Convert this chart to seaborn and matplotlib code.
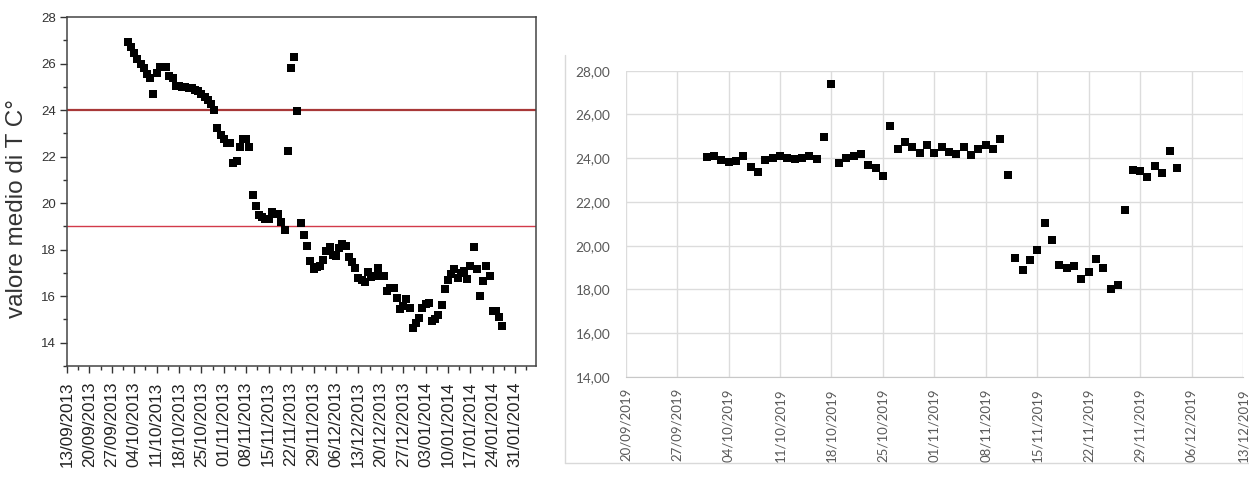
import numpy as np
import pandas as pd
import matplotlib
matplotlib.use("Agg")
import matplotlib.pyplot as plt
import seaborn as sns
from matplotlib.lines import Line2D

# ---------------- data ----------------
left_start = "2013-10-02"
left_values = [
    26.94, 26.73, 26.47, 26.18, 25.97, 25.80, 25.55, 25.37, 24.70, 25.58,
    25.87, 25.87, 25.87, 25.47, 25.37, 25.04, 25.02, 25.00, 24.98, 24.96,
    24.93, 24.88, 24.80, 24.70, 24.58, 24.45, 24.28, 24.00, 23.22, 22.94,
    22.75, 22.58, 22.60, 21.74, 21.83, 22.43, 22.75, 22.75, 22.43, 20.35,
    19.86, 19.50, 19.40, 19.32, 19.32, 19.60, 19.55, 19.55, 19.17, 18.86,
    22.26, 25.82, 26.30, 23.94, 19.14, 18.64, 18.17, 17.50, 17.17, 17.26,
    17.28, 17.57, 17.93, 18.12, 17.79, 17.71, 18.07, 18.26, 18.14, 17.69,
    17.46, 17.21, 16.79, 16.71, 16.61, 17.03, 16.83, 16.86, 17.21, 16.86,
    16.86, 16.21, 16.36, 16.36, 15.93, 15.43, 15.57, 15.88, 15.50, 14.64,
    14.85, 15.07, 15.50, 15.68, 15.71, 14.92, 15.00, 15.21, 15.64, 16.31,
    16.71, 16.97, 17.17, 16.79, 17.00, 17.07, 16.74, 17.31, 18.12, 17.17,
    16.00, 16.67, 17.31, 16.86, 15.38, 15.38, 15.11, 14.71,
]
left_thresholds = [24, 19]
left_tick_start, left_tick_end = "2013-09-13", "2014-01-31"
left_ylabel = "valore medio di T C°"

right_start = "2019-10-01"
right_values = [
    24.06, 24.12, 23.94, 23.83, 23.88, 24.09, 23.60, 23.37, 23.94, 24.03,
    24.09, 24.03, 23.96, 24.01, 24.09, 23.97, 24.95, 27.39, 23.79, 23.99,
    24.09, 24.21, 23.68, 23.57, 23.19, 25.47, 24.44, 24.75, 24.49, 24.26,
    24.60, 24.24, 24.49, 24.29, 24.18, 24.52, 24.14, 24.40, 24.60, 24.43,
    24.89, 23.22, 19.43, 18.87, 19.36, 19.82, 21.04, 20.24, 19.13, 18.98,
    19.07, 18.49, 18.82, 19.40, 18.98, 18.03, 18.21, 21.65, 23.45, 23.42,
    23.14, 23.63, 23.33, 24.32, 23.56,
]
right_tick_start, right_tick_end = "2019-09-20", "2019-12-13"
right_yticks = [14, 16, 18, 20, 22, 24, 26, 28]

# ---------------- frames ----------------
left_df = pd.DataFrame({
    "data": pd.date_range(left_start, periods=len(left_values), freq="D"),
    "T": left_values,
})
right_df = pd.DataFrame({
    "data": pd.date_range(right_start, periods=len(right_values), freq="D"),
    "T": right_values,
})
left_ticks = pd.date_range(left_tick_start, left_tick_end, freq="7D")
right_ticks = pd.date_range(right_tick_start, right_tick_end, freq="7D")

sns.set_style("white")
plt.rcParams["font.family"] = ["Liberation Sans", "DejaVu Sans"]

W, H = 1249, 488
fig = plt.figure(figsize=(W / 100, H / 100), dpi=100)

# ---------------- left panel ----------------
ax1 = fig.add_axes([67 / W, 1 - 366 / H, (536 - 67) / W, (366 - 17) / H])
sns.scatterplot(data=left_df, x="data", y="T", marker="s", s=38, color="black",
                linewidth=0, ax=ax1, legend=False, zorder=3)
for t, c, lw in zip(left_thresholds, ["#a83838", "#d23a4a"], [1.6, 1.0]):
    ax1.axhline(t, color=c, lw=lw, zorder=2)
ax1.set_ylim(13, 28)
ax1.set_xlim(left_ticks[0], left_ticks[0] + pd.Timedelta(days=146.5))
ax1.set_yticks(np.arange(14, 29, 2))
ax1.set_yticks(np.arange(13, 28, 2), minor=True)
ax1.set_xticks(left_ticks)
minor = [t + pd.Timedelta(days=3.5) for t in left_ticks]
ax1.set_xticks(minor, minor=True)
ax1.set_xticklabels([d.strftime("%d/%m/%Y") for d in left_ticks], rotation=90,
                    fontsize=12.3, color="#222222")
ax1.set_yticklabels([str(v) for v in range(14, 29, 2)], fontsize=9.5, color="#333333")
ax1.tick_params(axis="both", which="major", direction="out", length=5, width=1,
                color="#333333", bottom=True, left=True)
ax1.tick_params(axis="both", which="minor", direction="out", length=3, width=1,
                color="#333333", bottom=True, left=True)
ax1.tick_params(axis="x", which="major", pad=6)
ax1.tick_params(axis="y", which="major", pad=3)
for sp in ax1.spines.values():
    sp.set_color("#444444")
    sp.set_linewidth(1.1)
ax1.set_xlabel("")
ax1.set_ylabel(left_ylabel, fontsize=17.5, color="#333333")
ax1.yaxis.set_label_coords(-0.083, 0.45)

# ---------------- right panel ----------------
ax2 = fig.add_axes([625.7 / W, 1 - 377 / H, (1243 - 625.7) / W, (377 - 70.7) / H])
sns.scatterplot(data=right_df, x="data", y="T", marker="s", s=30, color="black",
                linewidth=0, ax=ax2, legend=False, zorder=3)
ax2.set_ylim(14, 28)
ax2.set_xlim(right_ticks[0], right_ticks[-1])
ax2.set_yticks(right_yticks)
ax2.set_yticklabels([f"{v:.2f}".replace(".", ",") for v in right_yticks],
                    fontsize=9.8, color="#595959", family=["Lato", "DejaVu Sans"])
ax2.set_xticks(right_ticks)
ax2.set_xticklabels([d.strftime("%d/%m/%Y") for d in right_ticks], rotation=90,
                    fontsize=9.5, color="#595959", family=["Lato", "DejaVu Sans"])
ax2.tick_params(axis="both", length=0)
ax2.tick_params(axis="y", pad=11)
ax2.tick_params(axis="x", pad=8)
ax2.grid(True, color="#dcdcdc", lw=1)
ax2.set_axisbelow(True)
for name, sp in ax2.spines.items():
    sp.set_visible(name == "bottom")
ax2.spines["bottom"].set_color("#c8c8c8")
ax2.set_xlabel("")
ax2.set_ylabel("")

# Excel chart-area border
fig.add_artist(Line2D([565 / W, 565 / W], [1 - 55 / H, 1 - 463 / H],
                      transform=fig.transFigure, color="#d9d9d9", lw=1))
fig.add_artist(Line2D([565 / W, 1.0], [1 - 463 / H, 1 - 463 / H],
                      transform=fig.transFigure, color="#d9d9d9", lw=1))

fig.savefig("out.png", dpi=100)
